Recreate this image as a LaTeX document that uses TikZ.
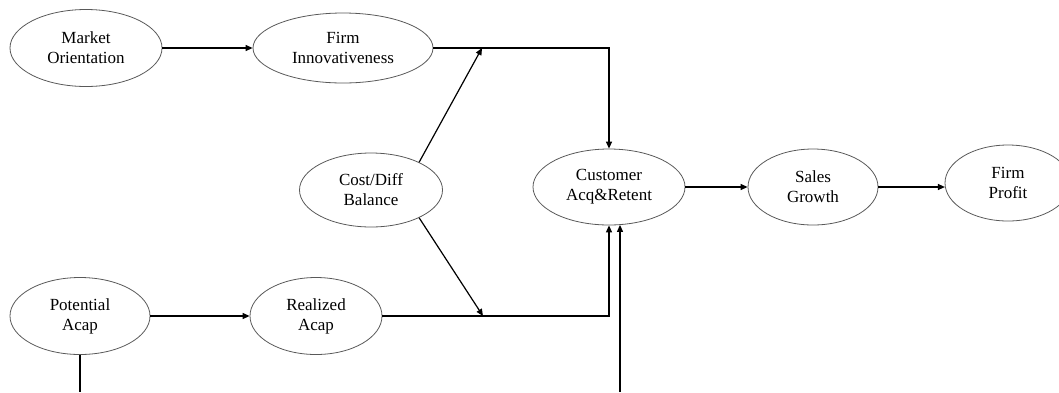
\documentclass[tikz,border=0pt]{standalone}
\usepackage{fontspec}
\setmainfont{Liberation Serif}
\usetikzlibrary{shapes.geometric,arrows.meta,calc}
\begin{document}
\begin{tikzpicture}[x=1pt,y=-1pt,
  oval/.style={ellipse, draw=black!65, line width=0.8pt, inner sep=0pt, align=center,
    font=\fontsize{17}{20}\selectfont},
  conn/.style={line width=1.2pt, -{Triangle[length=7pt,width=6pt]}},
  plain/.style={line width=1.2pt}]
\useasboundingbox (0,0) rectangle (1059,392);
\node[oval, minimum width=152pt, minimum height=77pt] (MO) at (86,48) {Market\\Orientation};
\node[oval, minimum width=180pt, minimum height=70pt] (FI) at (343,48) {Firm\\Innovativeness};
\node[oval, minimum width=143pt, minimum height=74pt] (CD) at (371,190) {Cost/Diff\\Balance};
\node[oval, minimum width=152pt, minimum height=76pt] (CA) at (609,187) {Customer\\Acq\&Retent};
\node[oval, minimum width=130pt, minimum height=76pt] (SG) at (813,187) {Sales\\Growth};
\node[oval, minimum width=126pt, minimum height=76pt] (FP) at (1008,183) {Firm\\Profit};
\node[oval, minimum width=140pt, minimum height=77pt] (PA) at (80,316) {Potential\\Acap};
\node[oval, minimum width=132pt, minimum height=77pt] (RA) at (316,316) {Realized\\Acap};
\coordinate (j1) at (482,48);
\coordinate (j2) at (483,316);
\coordinate (b1) at (80,392);
\coordinate (b2) at (620,392);
\draw[conn] (MO.east) -- (FI.west);
\draw[conn] (FI.east) -| (CA.north);
\draw[conn] (CD.30) -- (j1);
\draw[conn] (CD.-30) -- (j2);
\draw[conn] (RA.east) -| (CA.south);
\draw[conn] (b2) -- ($(b2 |- CA.south)+(0,-0.5)$);
\draw[plain] (PA.south) -- (b1);
\draw[conn] (CA.east) -- (SG.west);
\draw[conn] (SG.east) -- ($(FP.west |- SG.east)+(0.3,0)$);
\draw[conn] (PA.east) -- (RA.west);
\end{tikzpicture}
\end{document}
